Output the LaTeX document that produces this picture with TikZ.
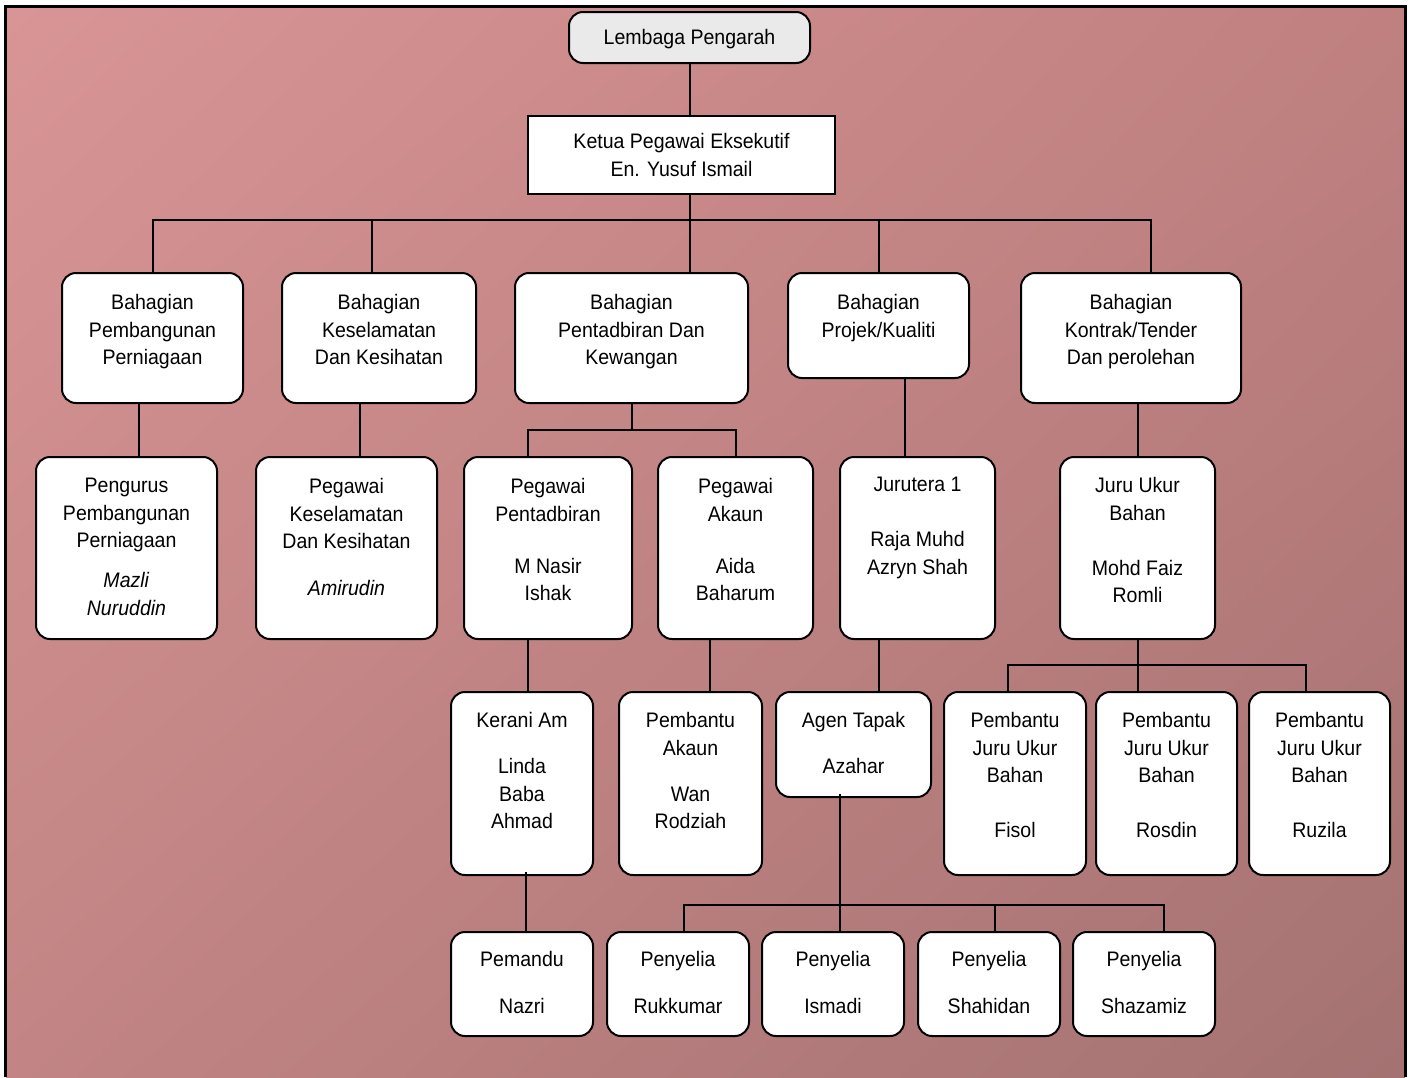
\documentclass[tikz,border=0pt]{standalone}
\usepackage{fontspec}
\setmainfont[FakeStretch=0.93]{Liberation Sans}
\usetikzlibrary{calc,shadings}
\definecolor{bgTL}{HTML}{D99595}
\definecolor{bgTR}{HTML}{C08080}
\definecolor{bgBL}{HTML}{C28484}
\definecolor{bgBR}{HTML}{A47272}
\definecolor{topgray}{HTML}{EAEAEA}
\newcommand\bt[4]{\parbox[c][#2pt][t]{#1pt}{\centering\vspace*{#3pt}#4\par}}
\begin{document}
\begin{tikzpicture}[x=1pt,y=-1pt,
  box/.style={draw=black, line width=2pt, rounded corners=14pt, fill=white, inner sep=0pt, outer sep=0pt,
    font=\fontsize{21}{27.5}\selectfont},
  sqbox/.style={box, rounded corners=0pt},
  conn/.style={draw=black, line width=2pt}]
\useasboundingbox (0,0) rectangle (1412,1077);
\fill[white] (0,0) rectangle (1412,1077);
\shade[upper left=bgTL, upper right=bgTR, lower left=bgBL, lower right=bgBR] (6,7) rectangle (1405,1077);
\draw[line width=3pt] (5.5,1077) -- (5.5,6.5) -- (1405.5,6.5) -- (1405.5,1077);

% level 0/1
\node[box, fill=topgray] (lem) at (689.5,37.5) {\bt{241}{51}{17.3}{Lembaga Pengarah}};
\node[sqbox] (ceo) at (681.5,155) {\bt{307}{78}{17.3}{Ketua Pegawai Eksekutif\\En. Yusuf Ismail}};

% level 2
\node[box] (b1) at (152.5,338) {\bt{181}{130}{21.3}{Bahagian\\Pembangunan\\Perniagaan}};
\node[box] (b2) at (379,338) {\bt{194}{130}{21.3}{Bahagian\\Keselamatan\\Dan Kesihatan}};
\node[box] (b3) at (631.5,338) {\bt{233}{130}{21.3}{Bahagian\\Pentadbiran Dan\\Kewangan}};
\node[box] (b4) at (878.5,325.5) {\bt{181}{105}{21.3}{Bahagian\\Projek/Kualiti}};
\node[box] (b5) at (1131,338) {\bt{220}{130}{21.3}{Bahagian\\Kontrak/Tender\\Dan perolehan}};

% level 3
\node[box] (p1) at (126.5,548) {\bt{181}{182}{21.3}{Pengurus\\Pembangunan\\Perniagaan\\[12.5pt]\textit{Mazli}\\\textit{Nuruddin}}};
\node[box] (p2) at (346.5,548) {\bt{181}{182}{21.3}{Pegawai\\Keselamatan\\Dan Kesihatan\\[19.5pt]\textit{Amirudin}}};
\node[box] (p3) at (548,548) {\bt{168}{182}{21.3}{Pegawai\\Pentadbiran\\[24.5pt]M Nasir\\Ishak}};
\node[box] (p4) at (735.5,548) {\bt{155}{182}{21.3}{Pegawai\\Akaun\\[24.5pt]Aida\\Baharum}};
\node[box] (p5) at (917.5,548) {\bt{155}{182}{20.3}{Jurutera 1\\[27.5pt]Raja Muhd\\Azryn Shah}};
\node[box] (p6) at (1137.5,548) {\bt{155}{182}{20.3}{Juru Ukur\\Bahan\\[27.5pt]Mohd Faiz\\Romli}};

% level 4
\node[box] (k1) at (522,783.5) {\bt{142}{183}{20.3}{Kerani Am\\[18.5pt]Linda\\Baba\\Ahmad}};
\node[box] (k2) at (690.5,783.5) {\bt{143}{183}{20.3}{Pembantu\\Akaun\\[18.5pt]Wan\\Rodziah}};
\node[box] (k3) at (853.5,744.5) {\bt{155}{105}{20.3}{Agen Tapak\\[18.5pt]Azahar}};
\node[box] (k4) at (1015,783.5) {\bt{142}{183}{20.3}{Pembantu\\Juru Ukur\\Bahan\\[27.5pt]Fisol}};
\node[box] (k5) at (1166.5,783.5) {\bt{141}{183}{20.3}{Pembantu\\Juru Ukur\\Bahan\\[27.5pt]Rosdin}};
\node[box] (k6) at (1319.5,783.5) {\bt{141}{183}{20.3}{Pembantu\\Juru Ukur\\Bahan\\[27.5pt]Ruzila}};

% level 5
\node[box] (q1) at (522,984) {\bt{142}{104}{19.3}{Pemandu\\[19.5pt]Nazri}};
\node[box] (q2) at (678,984) {\bt{142}{104}{19.3}{Penyelia\\[19.5pt]Rukkumar}};
\node[box] (q3) at (833,984) {\bt{142}{104}{19.3}{Penyelia\\[19.5pt]Ismadi}};
\node[box] (q4) at (989,984) {\bt{142}{104}{19.3}{Penyelia\\[19.5pt]Shahidan}};
\node[box] (q5) at (1144,984) {\bt{142}{104}{19.3}{Penyelia\\[19.5pt]Shazamiz}};

% bus coordinates
\coordinate (bus) at (689,220);
\coordinate (bus3) at (632,430);
\coordinate (bus6) at (1138,665);
\coordinate (bus7) at (840,905);

% connectors
\draw[conn] (lem.south) -- (lem.south |- ceo.north);
\draw[conn] (lem.south |- ceo.south) -- (lem.south |- b3.north);
\draw[conn] (b1.north) |- (bus) -| ([xshift=20pt]b5.north);
\draw[conn] ([xshift=-7pt]b2.north) -- ([xshift=-7pt]b2.north |- bus);
\draw[conn] (b4.north) -- (b4.north |- bus);

\draw[conn] ([xshift=12.5pt]p1.north) -- ([xshift=12.5pt]p1.north |- b1.south);
\draw[conn] ([xshift=13.5pt]p2.north) -- ([xshift=13.5pt]p2.north |- b2.south);
\draw[conn] (b3.south) -- (b3.south |- bus3);
\draw[conn] ([xshift=-20pt]p3.north) |- (bus3) -| (p4.north);
\draw[conn] ([xshift=-12.5pt]p5.north) -- ([xshift=-12.5pt]p5.north |- b4.south);
\draw[conn] (p6.north) -- (p6.north |- b5.south);

\draw[conn] ([xshift=6pt]k1.north) -- ([xshift=6pt]k1.north |- p3.south);
\draw[conn] ([xshift=19.5pt]k2.north) -- ([xshift=19.5pt]k2.north |- p4.south);
\draw[conn] ([xshift=25.5pt]k3.north) -- ([xshift=25.5pt]k3.north |- p5.south);
\draw[conn] (p6.south) -- (p6.south |- k5.north);
\draw[conn] ([xshift=-7pt]k4.north) |- (bus6) -| ([xshift=-13.5pt]k6.north);

\draw[conn] ([xshift=4pt]q1.north) -- ([xshift=4pt,yshift=3pt]q1.north |- k1.south);
\draw[conn] ([xshift=-13.5pt,yshift=3pt]k3.south) -- ([xshift=7pt]q3.north);
\draw[conn] ([xshift=6pt]q2.north) |- (bus7) -| ([xshift=20pt]q5.north);
\draw[conn] ([xshift=6pt]q4.north) -- ([xshift=6pt]q4.north |- bus7);
\end{tikzpicture}
\end{document}
